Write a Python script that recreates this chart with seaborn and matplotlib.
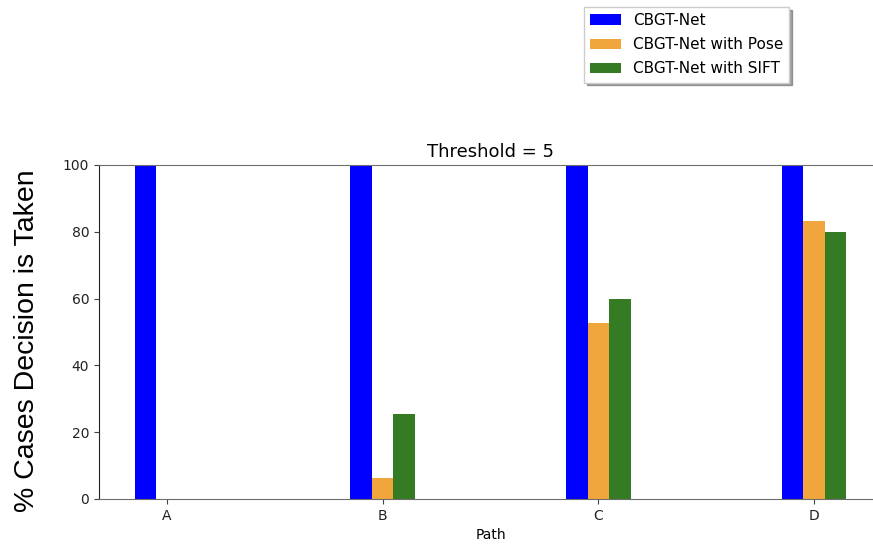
import matplotlib
matplotlib.use("Agg")
import matplotlib.pyplot as plt
import seaborn as sns
import pandas as pd

# Data
paths = ["A", "B", "C", "D"]
methods = ["CBGT-Net", "CBGT-Net with Pose", "CBGT-Net with SIFT"]
cbgt = [100, 100, 100, 100]
cbgt_pose = [0, 6.3, 52.8, 83.2]
cbgt_sift = [0, 25.5, 60.0, 79.8]
colors = ["#0000ff", "#f0a63c", "#357b24"]

df = pd.DataFrame({
    "Path": paths * 3,
    "Method": [m for m in methods for _ in paths],
    "Value": cbgt + cbgt_pose + cbgt_sift,
})

fig = plt.figure(figsize=(8.73, 5.48), dpi=100)
ax = fig.add_axes([99 / 873, 49 / 548, 783 / 873, 334 / 548])

sns.barplot(data=df, x="Path", y="Value", hue="Method", hue_order=methods,
            palette=colors, saturation=1, width=0.3, errorbar=None, ax=ax)

ax.set_xlim(-0.315, 3.315)
ax.set_ylim(0, 100)
ax.set_yticks([0, 20, 40, 60, 80, 100])
ax.set_title("Threshold = 5", fontsize=13)
ax.set_xlabel("Path", fontsize=10)
ax.set_ylabel("% Cases Decision is Taken", fontsize=20.5,
              family="Liberation Sans")
ax.yaxis.set_label_coords(-0.0754, 0.473)

for side in ["top", "bottom", "right"]:
    ax.spines[side].set_color("#6e6e6e")
ax.spines["left"].set_color("#222222")
ax.tick_params(colors="#444444", labelcolor="#222222", labelsize=10)

handles, labels = ax.get_legend_handles_labels()
ax.get_legend().remove()
fig.legend(handles, labels, loc="upper left",
           bbox_to_anchor=(584 / 873, 1 - 7 / 548), borderaxespad=0,
           shadow=True, fontsize=11, labelspacing=0.6,
           fancybox=False, framealpha=1, edgecolor="#cccccc")

fig.savefig("out.png", dpi=100)
